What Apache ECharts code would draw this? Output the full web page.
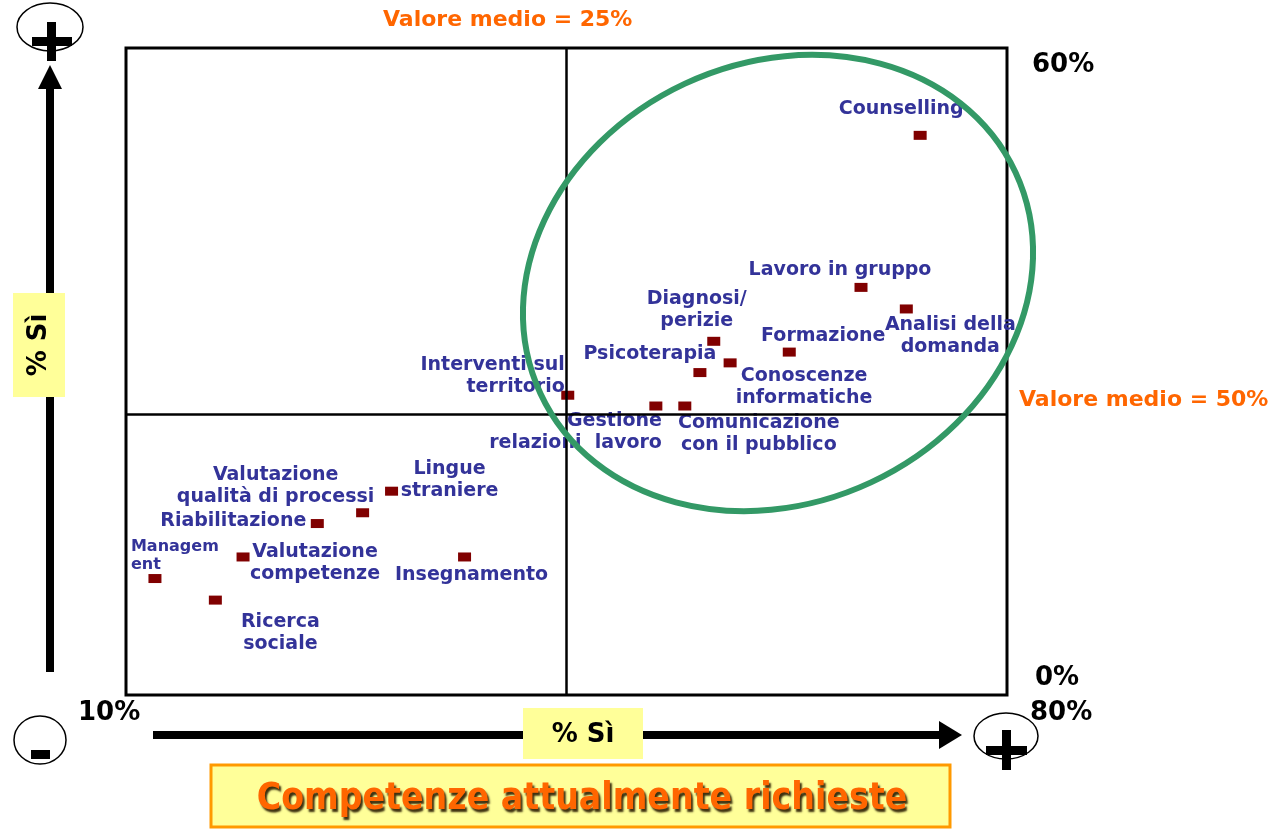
<!DOCTYPE html>
<html>
<head>
<meta charset="utf-8">
<script src="https://cdn.jsdelivr.net/npm/echarts@6/dist/echarts.min.js"></script>
<style>
  html, body { margin: 0; padding: 0; background: #fff; }
  #chart { width: 1280px; height: 829px; }
</style>
</head>
<body>
<div id="chart"></div>
<script>
// competenze: % Sì (asse x), % Sì (asse y)
var names = ['Counselling', 'Lavoro in gruppo', 'Analisi della\ndomanda', 'Formazione',
  'Diagnosi/\nperizie', 'Conoscenze\ninformatiche', 'Psicoterapia', 'Interventi sul\nterritorio',
  'Gestione\nrelazioni  lavoro', 'Comunicazione\ncon il pubblico', 'Lingue\nstraniere',
  'Valutazione\nqualità di processi', 'Riabilitazione', 'Insegnamento',
  'Valutazione\ncompetenze', 'Managem\nent', 'Ricerca\nsociale'];
var xValues = [73.1, 68.4, 72.0, 62.7, 56.7, 58.0, 55.6, 45.1, 52.1, 54.4, 31.1, 28.8, 25.2, 36.9, 19.3, 12.3, 17.1];
var yValues = [51.9, 37.8, 35.8, 31.8, 32.8, 30.8, 29.9, 27.8, 26.8, 26.8, 18.9, 16.9, 15.9, 12.8, 12.8, 10.8, 8.8];
var xMean = 45;
var yMean = 26;
var xRange = [10, 80];
var yRange = [0, 60];

// posizione delle etichette rispetto al punto (px)
var labelPos = [
  [-19, -26, 'center'], [-21, -17, 'center'], [44, 27, 'center'], [34, -16, 'center'],
  [-17, -31, 'center'], [74, 24, 'center'], [-50, -19, 'center'], [-3, -19, 'right'],
  [6, 26, 'right'], [74, 28, 'center'], [58, -11, 'center'],
  [-87, -27, 'center'], [-84, -2, 'center'], [7, 18, 'center'],
  [72, 6, 'center'], [-24, -23, 'left'], [65, 33, 'center']
];

var data = names.map(function (n, i) {
  var p = labelPos[i];
  var small = n === 'Managem\nent';
  return {
    name: n,
    value: [xValues[i], yValues[i]],
    label: {
      offset: [p[0], p[1]],
      align: p[2],
      fontSize: small ? 16 : 19,
      lineHeight: small ? 18 : 22
    }
  };
});

var blue = '#333399';
var orange = '#ff6600';
var yellow = '#ffff99';
var font = 'DejaVu Sans';

var myChart = echarts.init(document.getElementById('chart'));
var option = {
  animation: false,
  grid: { left: 126, top: 48, right: 273, bottom: 134, show: true, borderColor: '#000', borderWidth: 3 },
  xAxis: { type: 'value', min: xRange[0], max: xRange[1], show: false },
  yAxis: { type: 'value', min: yRange[0], max: yRange[1], show: false },
  series: [{
    type: 'scatter',
    symbol: 'rect',
    symbolSize: [13, 9],
    itemStyle: { color: '#800000', opacity: 1 },
    label: {
      show: true,
      position: 'inside',
      formatter: '{b}',
      color: blue,
      fontFamily: font,
      fontWeight: 'bold',
      verticalAlign: 'middle'
    },
    data: data,
    markLine: {
      silent: true,
      symbol: 'none',
      label: { show: false },
      lineStyle: { color: '#000', width: 2.5, type: 'solid', opacity: 1 },
      data: [{ xAxis: xMean }, { yAxis: yMean }]
    }
  }],
  graphic: [
    // ellisse verde
    { type: 'ellipse', x: 778, y: 283, rotation: 25 * Math.PI / 180, shape: { cx: 0, cy: 0, rx: 262, ry: 220 },
      style: { fill: 'none', stroke: '#339966', lineWidth: 6 }, z: 10 },
    // testi valore medio
    { type: 'text', x: 383, y: 20, style: { text: 'Valore medio = 25%', fill: orange, font: 'bold 22px ' + font, textVerticalAlign: 'middle' } },
    { type: 'text', x: 1019, y: 400, style: { text: 'Valore medio = 50%', fill: orange, font: 'bold 22px ' + font, textVerticalAlign: 'middle' } },
    // etichette assi
    { type: 'text', x: 1032, y: 65, style: { text: '60%', fill: '#000', font: 'bold 26px ' + font, textVerticalAlign: 'middle' } },
    { type: 'text', x: 1035, y: 678, style: { text: '0%', fill: '#000', font: 'bold 26px ' + font, textVerticalAlign: 'middle' } },
    { type: 'text', x: 1030, y: 713, style: { text: '80%', fill: '#000', font: 'bold 26px ' + font, textVerticalAlign: 'middle' } },
    { type: 'text', x: 78, y: 713, style: { text: '10%', fill: '#000', font: 'bold 26px ' + font, textVerticalAlign: 'middle' } },
    // freccia verticale
    { type: 'rect', shape: { x: 46, y: 86, width: 8, height: 586 }, style: { fill: '#000' } },
    { type: 'polygon', shape: { points: [[50, 65], [38, 89], [62, 89]] }, style: { fill: '#000' } },
    { type: 'ellipse', shape: { cx: 50, cy: 27, rx: 33, ry: 24 }, style: { fill: 'none', stroke: '#000', lineWidth: 1.5 } },
    { type: 'rect', shape: { x: 47, y: 22, width: 9, height: 39 }, style: { fill: '#000' } },
    { type: 'rect', shape: { x: 32, y: 37, width: 40, height: 9 }, style: { fill: '#000' } },
    // freccia orizzontale
    { type: 'rect', shape: { x: 153, y: 731, width: 790, height: 8 }, style: { fill: '#000' } },
    { type: 'polygon', shape: { points: [[962, 735], [939, 721], [939, 749]] }, style: { fill: '#000' } },
    { type: 'ellipse', shape: { cx: 40, cy: 740, rx: 26, ry: 24 }, style: { fill: 'none', stroke: '#000', lineWidth: 1.5 } },
    { type: 'rect', shape: { x: 31, y: 750, width: 19, height: 9 }, style: { fill: '#000' } },
    { type: 'ellipse', shape: { cx: 1006, cy: 736, rx: 32, ry: 23 }, style: { fill: 'none', stroke: '#000', lineWidth: 1.5 } },
    { type: 'rect', shape: { x: 1002, y: 730, width: 9, height: 40 }, style: { fill: '#000' } },
    { type: 'rect', shape: { x: 986, y: 746, width: 41, height: 9 }, style: { fill: '#000' } },
    // box % Sì
    { type: 'rect', shape: { x: 13, y: 293, width: 52, height: 104 }, style: { fill: yellow } },
    { type: 'text', x: 39, y: 345, rotation: Math.PI / 2,
      style: { text: '% Sì', fill: '#000', font: 'bold 26px ' + font, textAlign: 'center', textVerticalAlign: 'middle' } },
    { type: 'rect', shape: { x: 523, y: 708, width: 120, height: 51 }, style: { fill: yellow } },
    { type: 'text', x: 583, y: 735,
      style: { text: '% Sì', fill: '#000', font: 'bold 26px ' + font, textAlign: 'center', textVerticalAlign: 'middle' } },
    // titolo
    { type: 'rect', shape: { x: 211, y: 765, width: 739, height: 62 }, style: { fill: yellow, stroke: '#ff9900', lineWidth: 3 } },
    { type: 'text', x: 582, y: 799,
      style: { text: 'Competenze attualmente richieste', fill: orange, font: 'bold 37px "DejaVu Sans Condensed"',
        textAlign: 'center', textVerticalAlign: 'middle',
        textShadowColor: 'rgba(40,25,0,0.9)', textShadowOffsetX: 2, textShadowOffsetY: 3, textShadowBlur: 2 } }
  ]
};
myChart.setOption(option);
</script>
</body>
</html>
